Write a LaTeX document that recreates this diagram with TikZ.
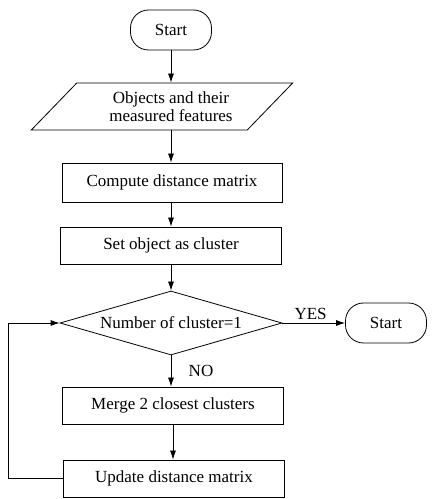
\documentclass[tikz,border=0pt]{standalone}
\usepackage{fontspec}
\setmainfont{Liberation Serif}
\usetikzlibrary{shapes.geometric,arrows.meta}

\begin{document}
\begin{tikzpicture}[x=1pt, y=1pt,
  font = \fontsize{17}{18}\selectfont,
  terminal/.style = {draw, shape = rectangle, rounded corners = 18pt, minimum width = 81pt, minimum height = 40pt, line width = 0.8pt},
  io/.style = {draw, shape = trapezium, trapezium left angle = 38.5, trapezium right angle = 141.5, trapezium stretches = true, minimum width = 262pt, minimum height = 47pt, inner sep = 0pt, align = center, line width = 0.8pt},
  process/.style = {draw, shape = rectangle, minimum width = 221pt, minimum height = 37pt, line width = 0.8pt},
  decision/.style = {draw, shape = diamond, aspect = 3.47, minimum width = 222pt, minimum height = 64pt, inner sep = 0pt, line width = 0.8pt},
  arr/.style = {-{Latex[length = 9pt, width = 6pt]}, line width = 0.8pt}]
\useasboundingbox (0,0) rectangle (436,499);

\node[terminal] (start) at (171,469) {Start};
\node[io] (input) at (162,392.5) {\hspace*{18pt}Objects and their\\\hspace*{18pt}measured features};
\node[process, minimum width = 220pt, minimum height = 39pt] (dist) at (172,316.5) {Compute distance matrix};
\node[process] (init) at (171,253.5) {Set object as cluster};
\node[decision] (check) at (171,176) {Number of cluster=1};
\node[terminal] (stop) at (386,176) {Start};
\node[process] (merge) at (173,93.5) {Merge 2 closest clusters};
\node[process] (update) at (174,20.5) {Update distance matrix};
\coordinate (back) at (8,0);

\draw[arr] (start) -- (start |- input.north);
\draw[arr] (start |- input.south) -- (start |- dist.north);
\draw[arr] (init |- dist.south) -- (init);
\draw[arr] (init) -- (check);
\draw[arr] (check.east) -- node[above, pos = 0.45] {YES} (stop);
\draw[arr] (check.south) -- node[right, pos = 0.5, xshift = 14pt] {NO} (check.south |- merge.north);
\draw[arr] (merge) -- (merge |- update.north);
\draw[arr] (update.west) -| (back |- check) -- (check.west);
\end{tikzpicture}
\end{document}
